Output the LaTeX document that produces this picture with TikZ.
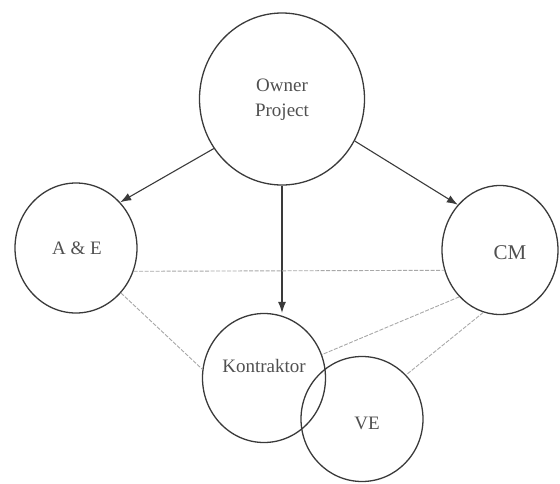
\documentclass[tikz,border=0pt]{standalone}
\usepackage{fontspec}
\setmainfont{Liberation Serif}
\usetikzlibrary{shapes.geometric,arrows.meta}
\definecolor{ink}{HTML}{3A3A3A}
\definecolor{txt}{HTML}{505050}
\definecolor{faint}{HTML}{A8A8A8}
\begin{document}
\begin{tikzpicture}[x=1pt,y=-1pt,
  party/.style={ellipse, draw=ink, line width=1.3pt, inner sep=0pt},
  lbl/.style={text=txt, font=\fontsize{19}{25}\selectfont, align=center, inner sep=0pt},
  arr/.style={draw=ink, line width=1.1pt, -{Latex[length=11pt,width=8pt]}},
  link/.style={draw=faint, line width=0.9pt, dash pattern=on 4pt off 1.5pt}]
\useasboundingbox (0,0) rectangle (560,483);

% parties
\node[party, minimum width=165pt, minimum height=172pt] (own) at (282,99) {};
\node[party, minimum width=122pt, minimum height=130pt] (ae) at (76,248) {};
\node[party, minimum width=116pt, minimum height=129pt] (cm) at (500,250) {};
\node[party, minimum width=123pt, minimum height=129pt] (kon) at (264,378) {};
\node[party, minimum width=122pt, minimum height=125pt] (ve) at (362,419) {};

% names
\node[lbl] (own-t) at (282,100) {Owner\\Project};
\node[lbl] (ae-t) at (77,248) {A \& E};
\node[lbl, font=\fontsize{21}{25}\selectfont] (cm-t) at (510,253) {CM};
\node[lbl] (kon-t) at (264,366) {Kontraktor};
\node[lbl] (ve-t) at (367,423) {VE};

% contract lines from the owner
\draw[arr] (own.216) -- (ae.46);
\draw[arr] (own.330) -- (cm.133);
\draw[arr] (own.south) -- (own.south |- kon.north);

% coordination lines
\draw[link] (ae.338) -- (cm.200);
\draw[link] (ae.315) -- (kon.172);
\draw[link] (cm.229) -- (kon.22);
\draw[link] (cm.255) -- (ve.45);
\end{tikzpicture}
\end{document}
